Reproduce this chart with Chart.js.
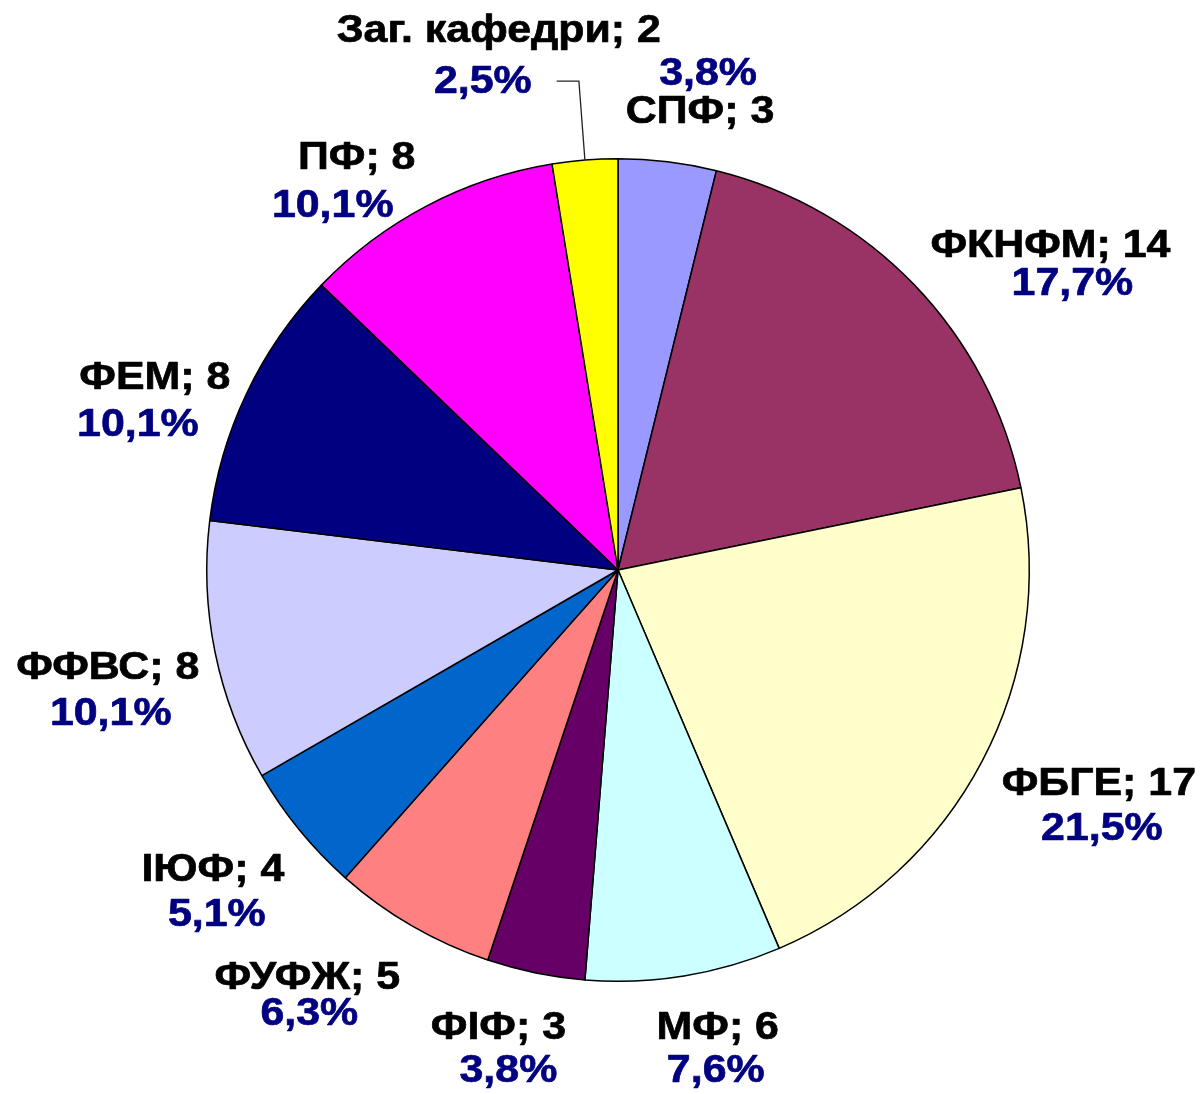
<!DOCTYPE html>
<html><head><meta charset="utf-8">
<script src="https://cdn.jsdelivr.net/npm/chart.js@4.4.0/dist/chart.umd.min.js"></script>
<style>html,body{margin:0;padding:0;background:#fff;} #wrap{width:1202px;height:1094px;} canvas{display:block;}</style>
</head><body>
<div id="wrap"><canvas id="c" width="1202" height="1094"></canvas></div>
<script>
// ---- data ----
const categories = ['СПФ', 'ФКНФМ', 'ФБГЕ', 'МФ', 'ФІФ', 'ФУФЖ', 'ІЮФ', 'ФФВС', 'ФЕМ', 'ПФ', 'Заг. кафедри'];
const values = [3, 14, 17, 6, 3, 5, 4, 8, 8, 8, 2];
const percentLabels = ['3,8%', '17,7%', '21,5%', '7,6%', '3,8%', '6,3%', '5,1%', '10,1%', '10,1%', '10,1%', '2,5%'];
const sliceColors = ['#9999FF', '#993366', '#FFFFCC', '#CCFFFF', '#660066', '#FF8080', '#0066CC', '#CCCCFF', '#000080', '#FF00FF', '#FFFF00'];

// ---- label layout (relative to each slice's mid-angle and the pie radius) ----
// [angle shift (deg), distance / radius, name-line dx, line gap (negative = percent above name)]
const labelLayout = [
  [3.3, 1.179, -4, -38],
  [9.3, 1.309, -11, 38],
  [-1.6, 1.306, -1.5, 45],
  [-2.4, 1.191, 1, 43],
  [1.9, 1.199, -5, 43],
  [6.0, 1.281, -1, 36],
  [0.6, 1.255, -2, 45],
  [-1.9, 1.272, -1.5, 46],
  [-5.7, 1.218, 8.5, 47],
  [-7.5, 1.153, 12, 48],
  [-9.3, 1.286, 8, 51]
];
const LEADER_INDEX = 10;
const FONT_PX = 39;
const X_SCALE = 1.1;
const FONT = 'bold ' + FONT_PX + 'px "Liberation Sans", Arial, sans-serif';

function drawText(ctx, txt, x, y, color) {
  ctx.save();
  ctx.translate(x, y);
  ctx.scale(X_SCALE, 1);
  ctx.fillStyle = color;
  ctx.strokeStyle = color;
  ctx.lineWidth = 0.7;
  ctx.lineJoin = 'round';
  ctx.fillText(txt, 0, 0);
  ctx.strokeText(txt, 0, 0);
  ctx.restore();
}

const labelPlugin = {
  id: 'pieLabels',
  afterDatasetsDraw(chart) {
    const ctx = chart.ctx;
    const meta = chart.getDatasetMeta(0);
    ctx.save();
    ctx.font = FONT;
    ctx.textAlign = 'center';
    ctx.textBaseline = 'alphabetic';
    meta.data.forEach((arc, i) => {
      const p = arc.getProps(['x', 'y', 'startAngle', 'endAngle', 'outerRadius'], true);
      const mid = (p.startAngle + p.endAngle) / 2;
      const lay = labelLayout[i];
      const a = mid + lay[0] * Math.PI / 180;
      const ax = p.x + lay[1] * p.outerRadius * Math.cos(a);
      const ay = p.y + lay[1] * p.outerRadius * Math.sin(a);
      const base = 0.28 * FONT_PX;
      const nameX = ax + lay[2], nameY = ay - lay[3] / 2;
      const pctX = ax - lay[2], pctY = ay + lay[3] / 2;
      drawText(ctx, categories[i] + '; ' + values[i], nameX, nameY + base, '#000000');
      drawText(ctx, percentLabels[i], pctX, pctY + base, '#000080');
      if (i === LEADER_INDEX) {
        const w = ctx.measureText(percentLabels[i]).width * X_SCALE;
        const sx = pctX + w / 2 + 25;
        const ex = p.x + p.outerRadius * Math.cos(mid);
        const ey = p.y + p.outerRadius * Math.sin(mid);
        ctx.strokeStyle = '#222222';
        ctx.lineWidth = 1.3;
        ctx.beginPath();
        ctx.moveTo(sx, pctY - 1);
        ctx.lineTo(ex - 6, pctY - 1);
        ctx.lineTo(ex, ey);
        ctx.stroke();
      }
    });
    ctx.restore();
  }
};

new Chart(document.getElementById('c'), {
  type: 'pie',
  data: {
    labels: categories,
    datasets: [{
      data: values,
      backgroundColor: sliceColors,
      borderColor: '#000000',
      borderWidth: 1.5
    }]
  },
  options: {
    responsive: false,
    animation: false,
    layout: { padding: { left: 206, right: 172, top: 157, bottom: 111 } },
    plugins: { legend: { display: false }, tooltip: { enabled: false } }
  },
  plugins: [labelPlugin]
});
</script>
</body></html>
